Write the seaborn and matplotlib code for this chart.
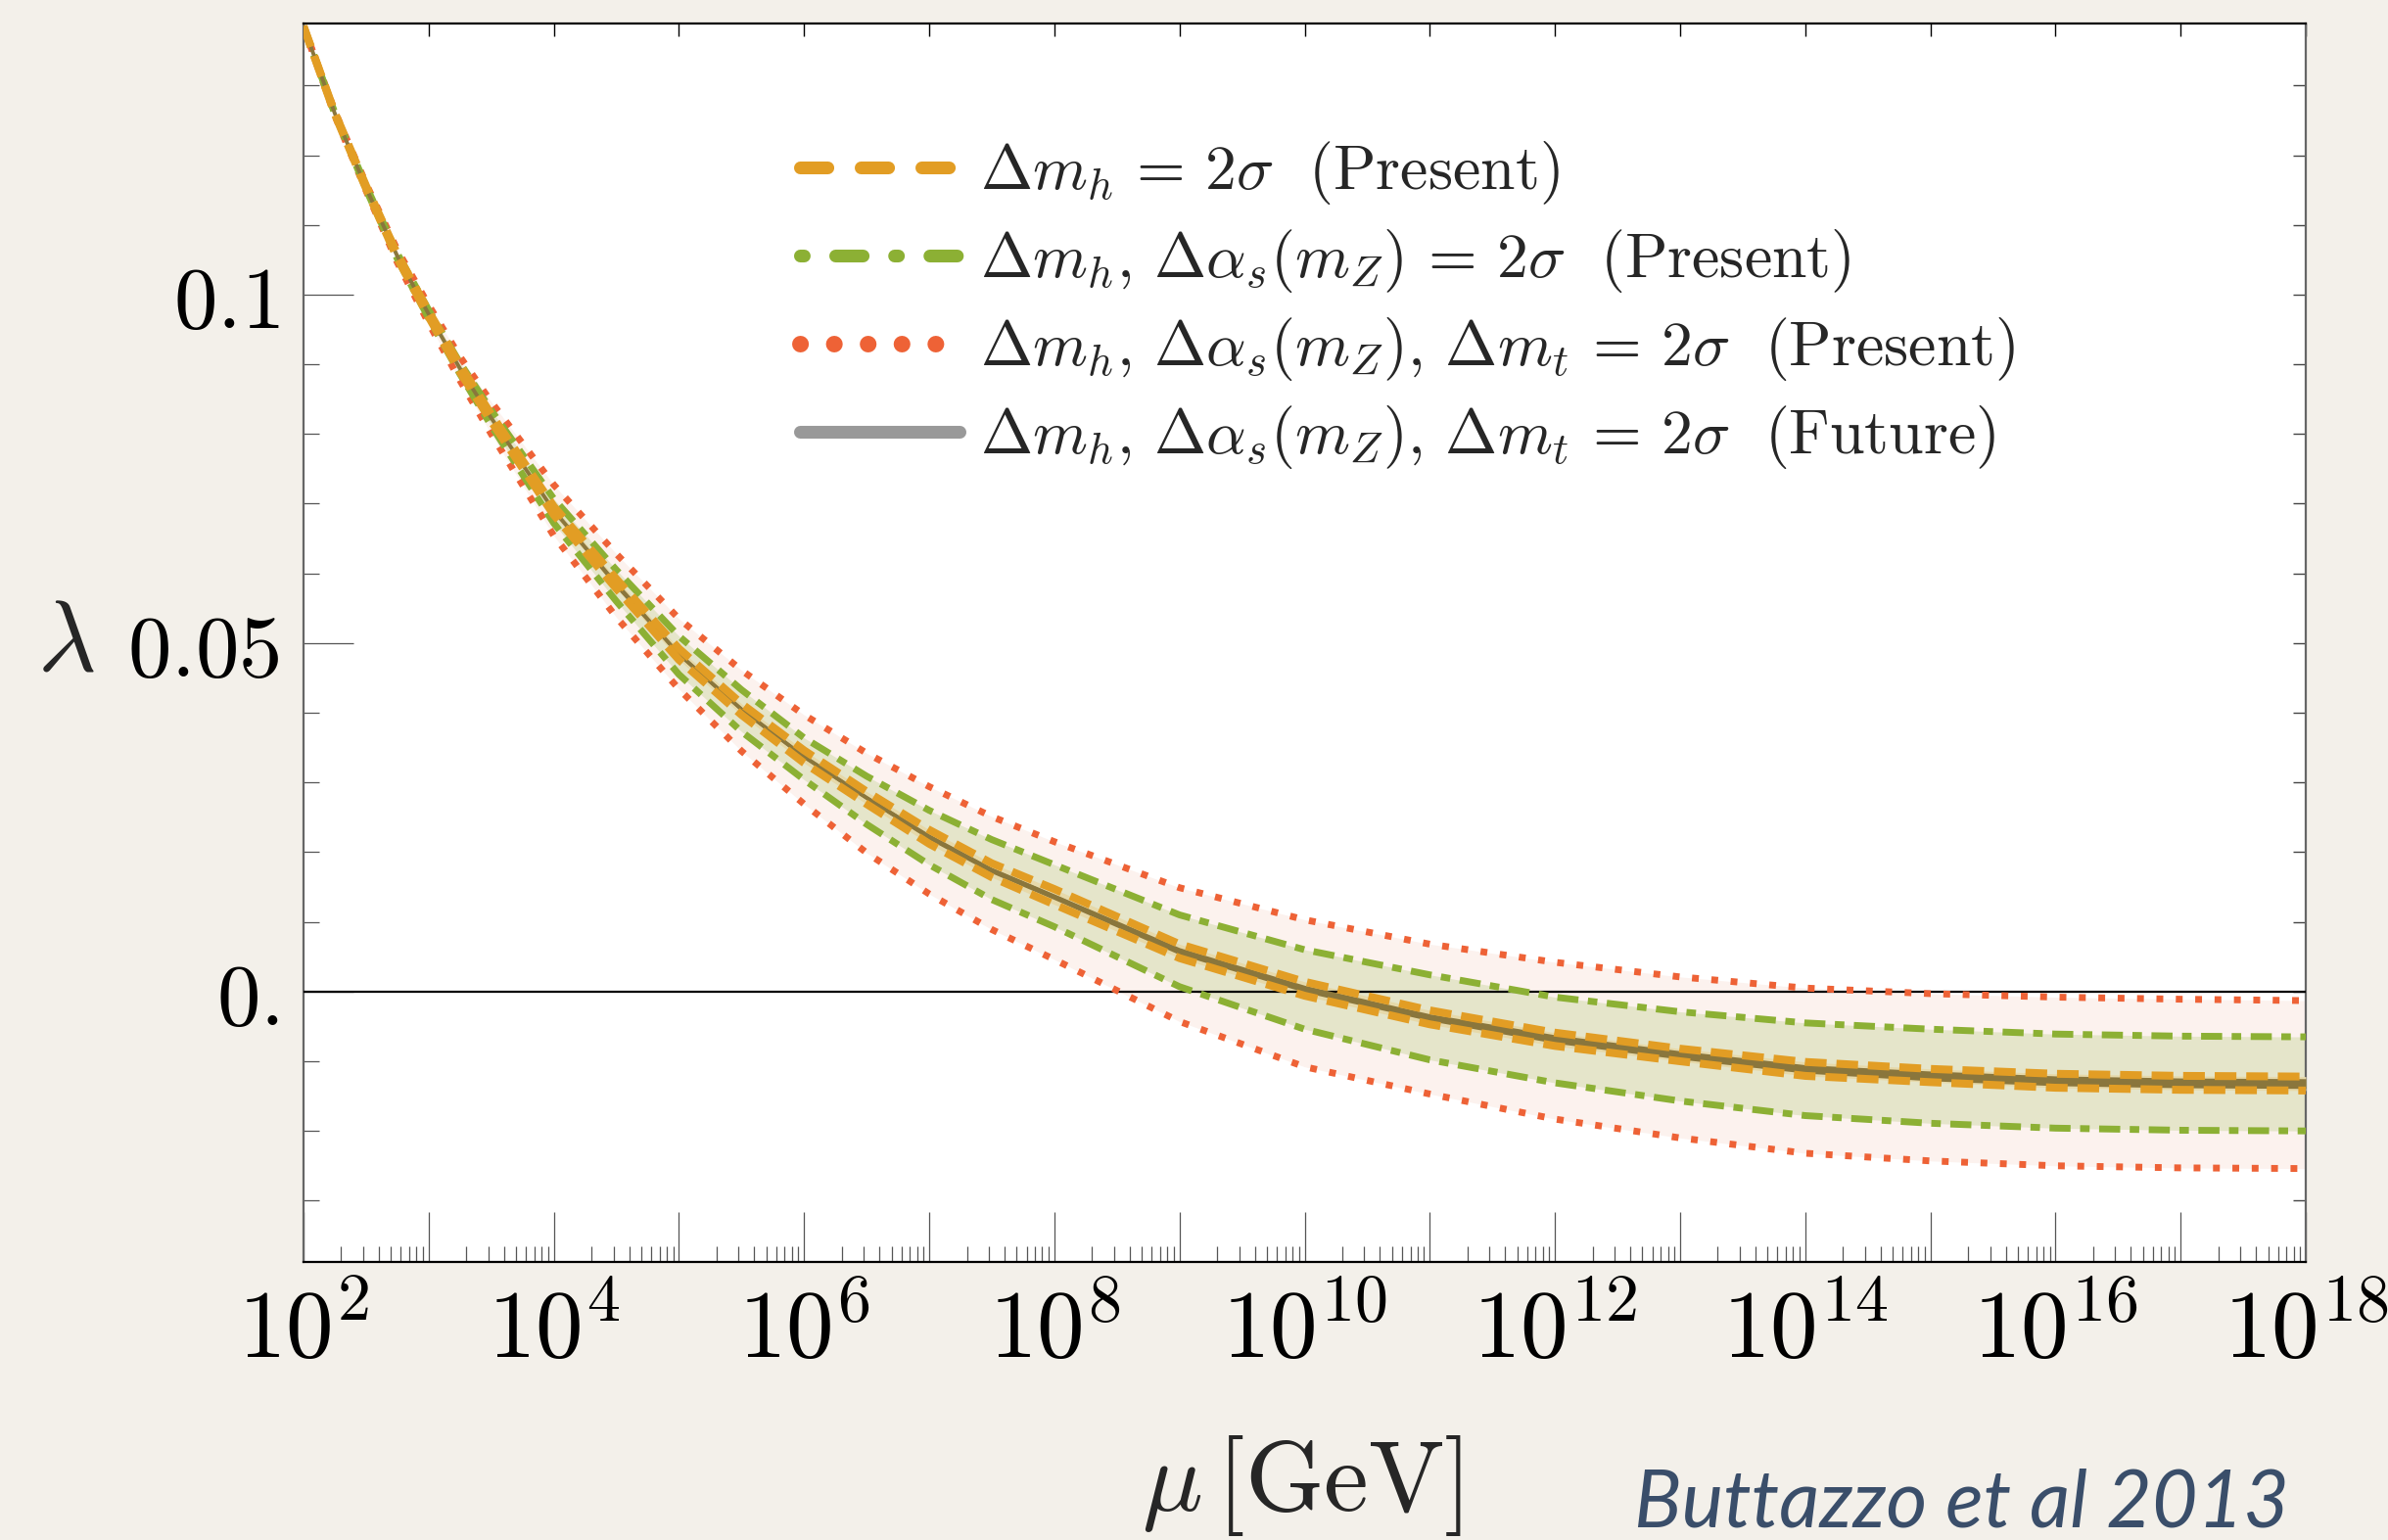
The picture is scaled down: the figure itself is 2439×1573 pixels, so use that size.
import numpy as np
import pandas as pd
import matplotlib
matplotlib.use("Agg")
import matplotlib.pyplot as plt
import matplotlib.ticker as mticker
from matplotlib.lines import Line2D
import seaborn as sns

# ---------------- data ----------------
log10_mu = [2.0, 2.25, 2.5, 2.75, 3.0, 3.25, 3.5, 4.0, 4.5, 5.0, 5.5, 6.0, 6.5,
            7.0, 7.5, 8.0, 9.0, 10.0, 11.0, 12.0, 13.0, 14.0, 15.0, 16.0, 17.0, 18.0]

central = [0.1385, 0.1260, 0.1153, 0.1055, 0.0972, 0.0894, 0.0823, 0.0690, 0.0585,
           0.0484, 0.0405, 0.0337, 0.0278, 0.0222, 0.0174, 0.0136, 0.0058, 0.0004,
           -0.0037, -0.0068, -0.0091, -0.0111, -0.0120, -0.0128, -0.0131, -0.0132]

future_upper = [0.1385, 0.1260, 0.1154, 0.1056, 0.0973, 0.0895, 0.0825, 0.0692, 0.0587,
                0.0487, 0.0408, 0.0340, 0.0281, 0.0226, 0.0178, 0.0140, 0.0063, 0.0009,
                -0.0032, -0.0062, -0.0085, -0.0105, -0.0114, -0.0121, -0.0124, -0.0125]
future_lower = [0.1385, 0.1260, 0.1152, 0.1054, 0.0971, 0.0893, 0.0821, 0.0688, 0.0579,
                0.0481, 0.0402, 0.0334, 0.0275, 0.0218, 0.0170, 0.0132, 0.0053, -0.0001,
                -0.0042, -0.0074, -0.0097, -0.0117, -0.0128, -0.0135, -0.0138, -0.0139]

orange_upper = [0.1385, 0.1261, 0.1156, 0.1058, 0.0976, 0.0899, 0.0828, 0.0696, 0.0592,
                0.0492, 0.0413, 0.0346, 0.0287, 0.0232, 0.0184, 0.0147, 0.0068, 0.0014,
                -0.0027, -0.0059, -0.0082, -0.0101, -0.0111, -0.0118, -0.0121, -0.0122]
orange_lower = [0.1385, 0.1259, 0.1152, 0.1052, 0.0968, 0.0889, 0.0818, 0.0684, 0.0578,
                0.0476, 0.0397, 0.0328, 0.0269, 0.0212, 0.0164, 0.0125, 0.0048, -0.0006,
                -0.0047, -0.0078, -0.0100, -0.0121, -0.0130, -0.0138, -0.0141, -0.0142]

green_upper = [0.1385, 0.1261, 0.1156, 0.1059, 0.0978, 0.0902, 0.0834, 0.0707, 0.0605,
               0.0510, 0.0433, 0.0364, 0.0309, 0.0260, 0.0218, 0.0182, 0.0110, 0.0060,
               0.0024, -0.0008, -0.0029, -0.0045, -0.0054, -0.0061, -0.0064, -0.0065]
green_lower = [0.1385, 0.1259, 0.1151, 0.1051, 0.0966, 0.0886, 0.0812, 0.0672, 0.0560,
               0.0455, 0.0373, 0.0304, 0.0240, 0.0182, 0.0132, 0.0093, 0.0007, -0.0054,
               -0.0098, -0.0131, -0.0157, -0.0178, -0.0189, -0.0196, -0.0199, -0.0200]

red_upper = [0.1385, 0.1263, 0.1159, 0.1064, 0.0985, 0.0911, 0.0846, 0.0727, 0.0628,
             0.0535, 0.0461, 0.0397, 0.0342, 0.0294, 0.0251, 0.0215, 0.0149, 0.0103,
             0.0068, 0.0042, 0.0021, 0.0005, -0.0003, -0.0008, -0.0011, -0.0013]
red_lower = [0.1385, 0.1257, 0.1149, 0.1046, 0.0959, 0.0877, 0.0800, 0.0654, 0.0537,
             0.0434, 0.0345, 0.0269, 0.0199, 0.0140, 0.0089, 0.0046, -0.0043, -0.0108,
             -0.0147, -0.0183, -0.0210, -0.0232, -0.0243, -0.0250, -0.0253, -0.0254]

legend_labels = [
    r'$\Delta m_h \,=\, 2\sigma\ \ \mathrm{(Present)}$',
    r'$\Delta m_h,\, \Delta\alpha_s(m_Z) \,=\, 2\sigma\ \ \mathrm{(Present)}$',
    r'$\Delta m_h,\, \Delta\alpha_s(m_Z),\, \Delta m_t \,=\, 2\sigma\ \ \mathrm{(Present)}$',
    r'$\Delta m_h,\, \Delta\alpha_s(m_Z),\, \Delta m_t \,=\, 2\sigma\ \ \mathrm{(Future)}$',
]
x_label = r'$\mu\,[\mathrm{GeV}]$'
y_label = r'$\lambda$'
ytick_values = [0.0, 0.05, 0.1]
ytick_labels = [r'$0.$', r'$0.05$', r'$0.1$']
credit = 'Buttazzo et al 2013'

# ---------------- styling ----------------
BG = '#F3F0EA'
ORANGE = '#E29D24'
GREEN = '#8CB034'
RED = '#EE6236'
GRAY = '#999999'
BROWN = '#8A763C'
RED_FILL = '#FCF2EE'
GREEN_FILL = '#E5E5CA'
ORANGE_FILL = '#E6D9AA'

sns.set_theme(style="white")
plt.rcParams['mathtext.fontset'] = 'cm'
plt.rcParams['font.family'] = ['DejaVu Sans']
plt.rcParams['axes.unicode_minus'] = False

W, H, DPI = 2439, 1573, 200
fig = plt.figure(figsize=(W / DPI, H / DPI), dpi=DPI, facecolor=BG)
L, R, T, B = 310, 2355, 24, 1289
ax = fig.add_axes([L / W, 1 - B / H, (R - L) / W, (B - T) / H])
ax.set_facecolor('white')

df = pd.DataFrame({
    'mu': 10.0 ** np.array(log10_mu),
    'central': central,
    'fu': future_upper, 'fl': future_lower,
    'ou': orange_upper, 'ol': orange_lower,
    'gu': green_upper, 'gl': green_lower,
    'ru': red_upper, 'rl': red_lower,
})

# bands
ax.fill_between(df['mu'], df['rl'], df['ru'], color=RED_FILL, lw=0, zorder=1)
ax.fill_between(df['mu'], df['gl'], df['gu'], color=GREEN_FILL, lw=0, zorder=2)
ax.fill_between(df['mu'], df['ol'], df['ou'], color=ORANGE_FILL, lw=0, zorder=3)
ax.axhline(0, color='black', lw=0.8, zorder=3.5)

# boundary lines
red_ls = (0, (1.0, 1.85))
green_ls = (0, (3.1, 1.4, 1.4, 1.4))
orange_ls = (0, (2.75, 1.25))
for col in ['ru', 'rl']:
    sns.lineplot(data=df, x='mu', y=col, ax=ax, color=RED, lw=2.5,
                 linestyle=red_ls, zorder=4)
for col in ['gu', 'gl']:
    sns.lineplot(data=df, x='mu', y=col, ax=ax, color=GREEN, lw=2.5,
                 linestyle=green_ls, zorder=5)
ax.fill_between(df['mu'], df['fl'], df['fu'], color=BROWN, lw=0, zorder=6)
sns.lineplot(data=df, x='mu', y='central', ax=ax, color=BROWN, lw=1.4, zorder=6)
for col in ['ou', 'ol']:
    sns.lineplot(data=df, x='mu', y=col, ax=ax, color=ORANGE, lw=2.9,
                 linestyle=orange_ls, zorder=7)

# axes / scales
ax.set_xscale('log')
ax.set_xlim(1e2, 1e18)
ax.set_ylim(-0.0388, 0.1389)
ax.set_xlabel('')
ax.set_ylabel('')

decades = 10.0 ** np.arange(2, 19)
ax.xaxis.set_major_locator(mticker.FixedLocator(decades))
ax.xaxis.set_major_formatter(mticker.FuncFormatter(
    lambda v, p: (r'$10^{%d}$' % round(np.log10(v))) if round(np.log10(v)) % 2 == 0 else ''))
minor_x = [k * 10.0 ** e for e in range(2, 18) for k in range(2, 10)]
ax.xaxis.set_minor_locator(mticker.FixedLocator(minor_x))
ax.xaxis.set_minor_formatter(mticker.NullFormatter())

ax.yaxis.set_major_locator(mticker.FixedLocator(ytick_values))
ax.yaxis.set_major_formatter(mticker.FixedFormatter(ytick_labels))
ax.yaxis.set_minor_locator(mticker.FixedLocator(np.round(np.arange(-0.03, 0.131, 0.01), 3)))

ax.tick_params(axis='both', which='major', direction='in', length=18.4, width=0.45,
               color='#555555', labelcolor='black')
ax.tick_params(axis='x', which='major', pad=9, bottom=True, top=False, labelsize=35)
ax.tick_params(axis='y', which='major', pad=9, left=True, right=False, labelsize=32)
ax.tick_params(axis='both', which='minor', direction='in', length=5.8, width=0.45,
               color='#555555', bottom=True, left=True, top=False, right=False)

for side in ['top', 'bottom']:
    ax.spines[side].set_color('black')
    ax.spines[side].set_linewidth(0.8)
for side in ['left', 'right']:
    ax.spines[side].set_color('#666666')
    ax.spines[side].set_linewidth(0.8)

secx = ax.secondary_xaxis('top')
secx.set_xticks(decades)
secx.xaxis.set_major_formatter(mticker.NullFormatter())
secx.xaxis.set_minor_locator(mticker.NullLocator())
secx.tick_params(direction='in', length=4.7, width=0.5, color='black')
secx.spines['top'].set_visible(False)

secy = ax.secondary_yaxis('right')
secy.set_yticks(np.round(np.arange(-0.03, 0.131, 0.01), 3))
secy.yaxis.set_major_formatter(mticker.NullFormatter())
secy.yaxis.set_minor_locator(mticker.NullLocator())
secy.tick_params(direction='in', length=4.7, width=0.5, color='#444444')
secy.spines['right'].set_visible(False)

# legend
lw_leg = 4.7
handles = [
    Line2D([], [], color=ORANGE, lw=lw_leg, dash_capstyle='round', linestyle=(0, (2.15, 2.6))),
    Line2D([], [], color=GREEN, lw=lw_leg, dash_capstyle='round',
           linestyle=(0, (0.3, 2.46, 2.15, 2.46))),
    Line2D([], [], color=RED, lw=6.1, dash_capstyle='round', linestyle=(0, (0.01, 2.03))),
    Line2D([], [], color=GRAY, lw=lw_leg),
]
ax.legend(handles, legend_labels, loc='upper left',
          bbox_to_anchor=(817 / W, 1 - 142 / H), bbox_transform=fig.transFigure,
          frameon=False, fontsize=23.0, handlelength=2.55, handletextpad=0.33,
          labelspacing=0.33, borderpad=0, borderaxespad=0)

# texts
fig.text(1330 / W, 1 - 1543 / H, x_label, ha='center', va='baseline', fontsize=37)
fig.text(67 / W, 1 - 657 / H, y_label, ha='center', va='center', fontsize=37)
fig.text(2338 / W, 1 - 1560 / H, credit, ha='right', va='baseline', fontsize=29,
         family=['Lato', 'DejaVu Sans'], fontstyle='italic', color='#3A4E6A')

fig.savefig('out.png', dpi=DPI, facecolor=BG)
